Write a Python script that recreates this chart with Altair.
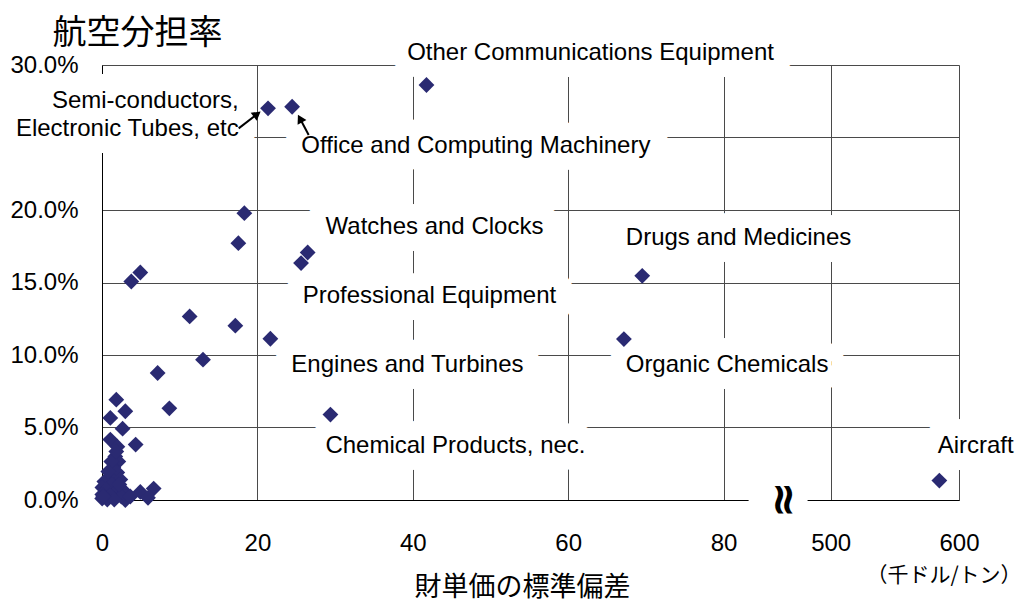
import altair as alt
import pandas as pd

# ---------------- data ----------------
# x: standard deviation of unit value (thousand $/ton), y: air share
PT_X = [41.76, 21.37, 24.47, 26.47, 25.62, 69.53, 67.17, 29.40, 584.7,
        18.32, 17.55, 4.93, 3.77, 11.28, 17.16, 21.67, 13.00, 7.16,
        1.84, 3.00, 8.67, 1.07, 2.65, 4.33, 1.07, 6.65, 4.93, 5.92, 3.00,
        1.98, 1.71, 2.10, 1.46, 1.97, 1.07, 2.36, 0.30, 1.33, 0.05, 0.55,
        2.10, 3.00, 0.04, 1.07, 2.49, 3.64, 0.02, 0.68, 1.58, 0.17, 2.23,
        1.20, 1.84, 0.81]
PT_Y = [0.2862, 0.2701, 0.2712, 0.1707, 0.1634, 0.1546, 0.1110, 0.0589, 0.0134,
        0.1978, 0.1771, 0.1569, 0.1507, 0.1266, 0.1202, 0.1112, 0.0968, 0.0876,
        0.0692, 0.0612, 0.0632, 0.0566, 0.0492, 0.0382, 0.0417, 0.0079, 0.0056, 0.0015, 0.0000,
        0.0368, 0.0300, 0.0265, 0.0224, 0.0189, 0.0155, 0.0141, 0.0127, 0.0107, 0.0086, 0.0072,
        0.0072, 0.0052, 0.0038, 0.0031, 0.0024, 0.0024, 0.0010, 0.0003, 0.0003, 0.0024, 0.0107,
        0.0265, 0.0334, 0.0196]

LABEL_TEXT = ["Other Communications Equipment", "Semi-conductors,", "Electronic Tubes, etc",
              "Office and Computing Machinery", "Watches and Clocks", "Drugs and Medicines",
              "Professional Equipment", "Engines and Turbines", "Organic Chemicals",
              "Chemical Products, nec.", "Aircraft"]
LABEL_X = [62.88, 17.59, 17.59, 25.66, 42.79, 81.93, 42.15, 39.31, 80.45, 45.49, 613.0]
LABEL_Y = [0.3082, 0.2755, 0.2562, 0.2438, 0.1884, 0.1808, 0.1408, 0.0930, 0.0930, 0.0375, 0.0375]
LABEL_ALIGN = ["center", "right", "right", "left", "center", "center", "center",
               "center", "center", "center", "center"]

ARROW_X = [17.59, 26.60]
ARROW_Y = [0.2563, 0.2517]
HEAD_X = [19.97, 25.48]
HEAD_Y = [0.2661, 0.2631]
HEAD_ANGLE = [52.6, 332.0]

X_TICKS = [0, 20, 40, 60, 80, 500, 600]
Y_TICKS = [0, 0.05, 0.10, 0.15, 0.20, 0.25, 0.30]

UNIT_TEXT = "（千ドル/トン）"
Y_TITLE = "航空分担率"
X_TITLE = "財単価の標準偏差"

# broken x scale: 0..80 linear, then 500..600 compressed
BRK_POS = 93.78      # display position of 500
BRK_SCALE = 0.1652   # display units per unit above 500
GAP = [83.22, 90.81]  # axis gap (display units)
BREAK_MARK_X = 87.34

def xform(field):
    return f"datum.{field} < 200 ? datum.{field} : {BRK_POS} + (datum.{field} - 500) * {BRK_SCALE}"

tick_disp = [round(v if v < 200 else BRK_POS + (v - 500) * BRK_SCALE, 4) for v in X_TICKS]
X_MAX = tick_disp[-1]

FONT = "Liberation Sans"
CJK = "Noto Sans CJK JP"
PT_COLOR = "#2a2a72"
GRID = "#4a4a4a"

xscale = alt.Scale(domain=[0, X_MAX], nice=False, zero=False)
yscale = alt.Scale(domain=[0, 0.30], nice=False, zero=False)

xaxis = alt.Axis(
    values=tick_disp,
    labelExpr=f"datum.value > 85 ? format(round(500 + (datum.value - {BRK_POS}) / {BRK_SCALE}), 'd') : format(datum.value, 'd')",
    title=X_TITLE, titleFont=CJK, titleFontSize=27, titleFontWeight="normal", titleColor="#000",
    titleX=420, titleY=87, titleBaseline="middle", titleAlign="center",
    labelFont=FONT, labelFontSize=24, labelColor="#000", labelPadding=31, labelBaseline="top",
    ticks=False, tickSize=0, domainColor="#000", domainWidth=1,
    grid=True, gridColor=GRID, gridWidth=1, labelFlush=False, labelOverlap=False, zindex=0,
)
yaxis = alt.Axis(
    values=Y_TICKS,
    labelExpr="(datum.value > 0.24 && datum.value < 0.26) ? '' : format(datum.value, '.1%')",
    title=Y_TITLE, titleFont=CJK, titleFontSize=34, titleFontWeight="normal", titleColor="#000",
    titleAngle=0, titleX=-50, titleY=-32, titleAlign="left", titleBaseline="middle",
    labelFont=FONT, labelFontSize=24, labelColor="#000", labelPadding=24,
    ticks=False, tickSize=0, domainColor="#000", domainWidth=1,
    grid=True, gridColor=GRID, gridWidth=1, labelFlush=False, labelOverlap=False, zindex=0,
)

def X(field="xd"):
    return alt.X(f"{field}:Q", scale=xscale, axis=xaxis)

def Y(field="y"):
    return alt.Y(f"{field}:Q", scale=yscale, axis=yaxis)

pts_df = pd.DataFrame({"x": PT_X, "y": PT_Y})
lab_df = pd.DataFrame({"x": LABEL_X, "y": LABEL_Y, "t": LABEL_TEXT, "a": LABEL_ALIGN})
arr_df = pd.DataFrame({"x": ARROW_X, "y": ARROW_Y, "hx": HEAD_X, "hy": HEAD_Y, "ang": HEAD_ANGLE})
gap_df = pd.DataFrame({"xd": [GAP[0]], "xd2": [GAP[1]], "y": [0.0]})
brk_df = pd.DataFrame({"xd": [BREAK_MARK_X], "y": [0.0], "t": ["≈"]})
unit_df = pd.DataFrame({"x": [600], "y": [0.0], "t": [UNIT_TEXT]})

gap = alt.Chart(gap_df).mark_rule(color="white", strokeWidth=6).encode(
    x=X(), x2=alt.X2("xd2:Q"), y=Y())

points = alt.Chart(pts_df).transform_calculate(xd=xform("x")).mark_point(
    shape="diamond", filled=True, size=250, color=PT_COLOR, opacity=1
).encode(x=X(), y=Y())

def label_layer(align, halo):
    base = alt.Chart(lab_df).transform_filter(f"datum.a == '{align}'").transform_calculate(xd=xform("x"))
    if halo:
        mk = base.mark_text(align=align, baseline="middle", font=FONT, fontSize=24,
                            color="white", stroke="white", strokeWidth=34, strokeJoin="round",
                            strokeCap="round")
    else:
        mk = base.mark_text(align=align, baseline="middle", font=FONT, fontSize=24, color="#000")
    return mk.encode(x=X(), y=Y(), text="t:N")

halos = [label_layer(a, True) for a in ["center", "left", "right"]]
texts = [label_layer(a, False) for a in ["center", "left", "right"]]

shafts = alt.Chart(arr_df).transform_calculate(xd=xform("x"), xd2=xform("hx")).mark_rule(
    color="#000", strokeWidth=2).encode(x=X(), y=Y(), x2=alt.X2("xd2:Q"), y2=alt.Y2("hy:Q"))
heads = alt.Chart(arr_df).transform_calculate(xd=xform("hx")).mark_point(
    shape="triangle-up", filled=True, size=100, color="#000", opacity=1
).encode(x=X(), y=Y("hy"), angle=alt.Angle("ang:Q", scale=None))

brk = alt.Chart(brk_df).mark_text(angle=90, font="DejaVu Sans", fontSize=44, fontWeight="bold",
                                  color="#000", baseline="middle", align="center", dy=-2).encode(
    x=X(), y=Y(), text="t:N")

unit = alt.Chart(unit_df).transform_calculate(xd=xform("x")).mark_text(
    font=CJK, fontSize=21, color="#000", baseline="middle", align="center", dy=76, dx=-15
).encode(x=X(), y=Y(), text="t:N")

chart = alt.layer(gap, *halos, points, *texts, shafts, heads, brk, unit).properties(
    width=857, height=435,
    autosize=alt.AutoSizeParams(type="none"),
    padding={"left": 94, "top": 57, "right": 67, "bottom": 101},
).configure_view(strokeWidth=0).configure(background="white")

chart.save("out.html", embed_options={"renderer": "svg", "actions": False})
